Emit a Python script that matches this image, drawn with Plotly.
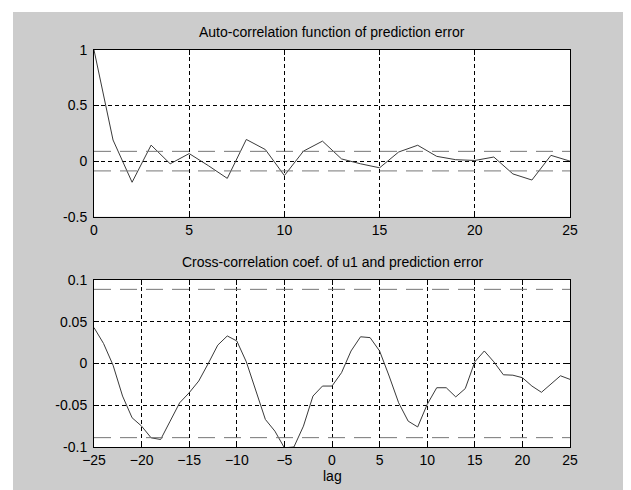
import plotly.graph_objects as go

# ---------------- data ----------------
acf_lags = list(range(0, 26))
acf_values = [1.0, 0.19, -0.19, 0.144, -0.024, 0.068, -0.04, -0.155, 0.195, 0.104,
              -0.13, 0.09, 0.18, 0.02, -0.024, -0.06, 0.082, 0.143, 0.043, 0.013,
              0.006, 0.037, -0.115, -0.17, 0.052, 0.0]

ccf_lags = list(range(-25, 26))
ccf_values = [0.043, 0.024, -0.002, -0.039, -0.065, -0.075, -0.089, -0.091, -0.069, -0.047,
              -0.035, -0.021, 0.0, 0.022, 0.033, 0.027, 0.002, -0.033, -0.067, -0.081,
              -0.101, -0.100, -0.075, -0.039, -0.027, -0.027, -0.011, 0.015, 0.032, 0.031,
              0.015, -0.015, -0.047, -0.069, -0.076, -0.049, -0.029, -0.029, -0.040, -0.030,
              0.002, 0.015, 0.002, -0.0135, -0.014, -0.017, -0.027, -0.0345, -0.025, -0.0147,
              -0.019]

conf_acf = 0.088
conf_ccf = 0.0888

acf_xticks = [0, 5, 10, 15, 20, 25]
acf_yticks = [-0.5, 0, 0.5, 1]
acf_yticklabels = ["-0.5", "0", "0.5", "1"]
ccf_xticks = [-25, -20, -15, -10, -5, 0, 5, 10, 15, 20, 25]
ccf_yticks = [-0.1, -0.05, 0, 0.05, 0.1]
ccf_yticklabels = ["-0.1", "-0.05", "0", "0.05", "0.1"]

title_top = "Auto-correlation function of prediction error"
title_bottom = "Cross-correlation coef. of u1 and prediction error"
xlabel_bottom = "lag"

# ---------------- figure ----------------
# the page body adds an 8px offset; layout below is in figure pixels
W, H = 631, 490
OFF = 8
L, R, T, B = 94 - OFF, W - (570 - OFF), 50 - OFF, H - (447 - OFF)
plot_h = H - T - B
plot_w = W - L - R

def py(p_screen):
    return (H - B - (p_screen - OFF)) / plot_h

def px(p_screen):
    return ((p_screen - OFF) - L) / plot_w

FONT = "Liberation Sans, Arial, Helvetica, sans-serif"
LINE_COL = "#3a3a3a"
CONF_COL = "#767676"

fig = go.Figure()

# top: ACF
fig.add_trace(go.Scatter(x=acf_lags, y=acf_values, mode="lines",
                         line=dict(color=LINE_COL, width=1), xaxis="x", yaxis="y",
                         showlegend=False, hoverinfo="skip"))
for s in (1, -1):
    fig.add_trace(go.Scatter(x=[acf_lags[0], acf_lags[-1]], y=[s * conf_acf, s * conf_acf],
                             mode="lines", line=dict(color=CONF_COL, width=1, dash="17px,9px"),
                             xaxis="x", yaxis="y", showlegend=False, hoverinfo="skip"))

# bottom: CCF
fig.add_trace(go.Scatter(x=ccf_lags, y=ccf_values, mode="lines",
                         line=dict(color=LINE_COL, width=1), xaxis="x2", yaxis="y2",
                         showlegend=False, hoverinfo="skip"))
for s in (1, -1):
    fig.add_trace(go.Scatter(x=[ccf_lags[0], ccf_lags[-1]], y=[s * conf_ccf, s * conf_ccf],
                             mode="lines", line=dict(color=CONF_COL, width=1, dash="17px,9px"),
                             xaxis="x2", yaxis="y2", showlegend=False, hoverinfo="skip"))

axis_common = dict(showline=True, linecolor="black", linewidth=1, mirror="ticks",
                   ticks="inside", ticklen=5, tickcolor="black", tickwidth=1,
                   showgrid=True, gridcolor="black", gridwidth=1, griddash="4px,3px",
                   zeroline=False, tickfont=dict(family=FONT, size=14, color="black"),
                   fixedrange=True)

fig.update_layout(
    width=W, height=H,
    margin=dict(l=L, r=R, t=T, b=B, pad=0),
    paper_bgcolor="#cccccc",
    plot_bgcolor="white",
    font=dict(family=FONT, size=14, color="black"),
    showlegend=False,
    xaxis=dict(domain=[0, 1], anchor="y", range=[0, 25], tickmode="array",
               tickvals=acf_xticks, **axis_common),
    yaxis=dict(domain=[py(216.7), 1], anchor="x", range=[-0.5, 1], tickmode="array",
               tickvals=acf_yticks, ticktext=acf_yticklabels, ticklabelstandoff=3,
               **axis_common),
    xaxis2=dict(domain=[0, 1], anchor="y2", range=[-25, 25], tickmode="array",
                tickvals=ccf_xticks, **axis_common),
    yaxis2=dict(domain=[0, py(280)], anchor="x2", range=[-0.1, 0.1], tickmode="array",
                tickvals=ccf_yticks, ticktext=ccf_yticklabels, ticklabelstandoff=3,
                **axis_common),
    shapes=[
        dict(type="rect", xref="paper", yref="paper", x0=-1, x1=2,
             y0=py(12), y1=2, fillcolor="white", line=dict(width=0), layer="above"),
        dict(type="rect", xref="paper", yref="paper", x0=-1, x1=px(13),
             y0=-1, y1=2, fillcolor="white", line=dict(width=0), layer="above"),
    ],
    annotations=[
        dict(text=title_top, xref="x domain", yref="y domain", x=0.5, y=1,
             xanchor="center", yanchor="bottom", yshift=8, showarrow=False,
             font=dict(family=FONT, size=14, color="black")),
        dict(text=title_bottom, xref="x2 domain", yref="y2 domain", x=0.5, y=1,
             xanchor="center", yanchor="bottom", yshift=8, showarrow=False,
             font=dict(family=FONT, size=14, color="black")),
        dict(text=xlabel_bottom, xref="x2 domain", yref="y2 domain", x=0.5, y=0,
             xanchor="center", yanchor="top", yshift=-19, showarrow=False,
             font=dict(family=FONT, size=14, color="black")),
    ],
)

fig.write_html("out.html")
